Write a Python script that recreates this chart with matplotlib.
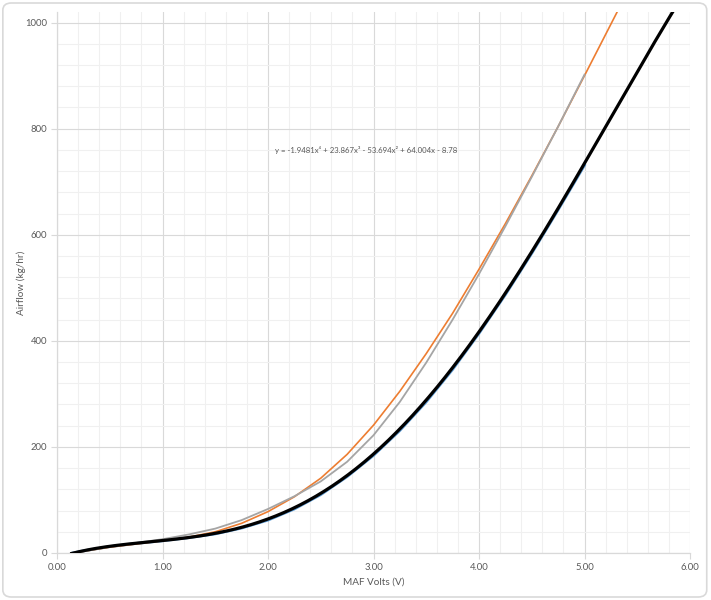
import numpy as np
import matplotlib
matplotlib.use("Agg")
from matplotlib import pyplot as plt
from matplotlib.patches import FancyBboxPatch
from matplotlib.ticker import MultipleLocator, FormatStrFormatter

plt.rcParams['font.family'] = ['Lato', 'DejaVu Sans']

blue_x = [0.15, 0.25, 0.5, 0.75, 1.0, 1.25, 1.5, 1.75, 2.0, 2.25, 2.5, 2.75,
          3.0, 3.25, 3.5, 3.75, 4.0, 4.25, 4.5, 4.75, 5.0]
blue_y = [0, 4, 12, 18, 23, 29, 36, 47, 62, 83, 110, 144,
          184, 231, 285, 346, 414, 487, 565, 647, 731]

# second transfer curve (orange)
orange_x = [0.15, 0.25, 0.5, 0.75, 1.0, 1.25, 1.5, 1.75, 2.0, 2.25, 2.5, 2.75,
            3.0, 3.25, 3.5, 3.75, 4.0, 4.25, 4.5, 4.75, 5.0, 5.25, 5.34]
orange_y = [0, 3, 11, 17, 23, 30, 40, 56, 78, 106, 141, 186,
            241, 305, 376, 452, 535, 621, 711, 804, 900, 997, 1032]

# third curve (gray)
gray_x = [0.15, 0.25, 0.5, 0.75, 1.0, 1.25, 1.5, 1.75, 2.0, 2.25, 2.5, 2.75,
          3.0, 3.25, 3.5, 3.75, 4.0, 4.25, 4.5, 4.75, 5.0]
gray_y = [0, 3, 12, 19, 26, 35, 46, 62, 83, 107, 135, 172,
          222, 285, 359, 440, 526, 616, 709, 804, 902]

# 4th order trendline shown on the chart
trend_coef = [-1.9481, 23.867, -53.694, 64.004, -8.78]
trend_label = "y = -1.9481x⁴ + 23.867x³ - 53.694x² + 64.004x - 8.78"
trend_range = (0.14, 5.86)

fig = plt.figure(figsize=(7.11, 6.0), dpi=100)
fig.patch.set_facecolor("white")

# rounded chart-area border
border = FancyBboxPatch((0.004, 0.005), 0.99, 0.99, boxstyle="round,pad=0,rounding_size=0.012",
                        transform=fig.transFigure, facecolor="none", edgecolor="#D9D9D9", linewidth=1.2)
fig.patches.append(border)

ax = fig.add_axes([57 / 711, 47 / 600, 633 / 711, 541 / 600])

ax.plot(blue_x, blue_y, color="#5B9BD5", lw=2.0, zorder=3)
ax.plot(orange_x, orange_y, color="#ED7D31", lw=1.2, zorder=4)
ax.plot(gray_x, gray_y, color="#A5A5A5", lw=1.3, zorder=5)
tx = np.linspace(trend_range[0], trend_range[1], 300)
ax.plot(tx, np.polyval(trend_coef, tx), color="black", lw=2.3, zorder=6)

ax.text(2.07, 760, trend_label, fontsize=5.6, color="#595959", va="center", ha="left")

ax.set_xlim(0, 6)
ax.set_ylim(0, 1020)
ax.xaxis.set_major_locator(MultipleLocator(1))
ax.xaxis.set_minor_locator(MultipleLocator(0.2))
ax.yaxis.set_major_locator(MultipleLocator(200))
ax.yaxis.set_minor_locator(MultipleLocator(40))
ax.xaxis.set_major_formatter(FormatStrFormatter("%.2f"))

ax.grid(which="major", color="#D9D9D9", lw=0.8)
ax.grid(which="minor", color="#F0F0F0", lw=0.8)
ax.set_axisbelow(True)

for s in ["top", "right"]:
    ax.spines[s].set_visible(False)
for s in ["left", "bottom"]:
    ax.spines[s].set_color("#D9D9D9")
    ax.spines[s].set_linewidth(0.9)

ax.tick_params(which="major", length=4, color="#D9D9D9", labelsize=6.8, labelcolor="#595959", pad=3)
ax.tick_params(which="minor", length=0)

ax.set_xlabel("MAF Volts (V)", fontsize=7.2, color="#595959", labelpad=4)
ax.set_ylabel("Airflow (kg/hr)", fontsize=7.2, color="#595959")
ax.yaxis.set_label_coords(-0.049, 0.5)

fig.savefig("out.png", dpi=100)
